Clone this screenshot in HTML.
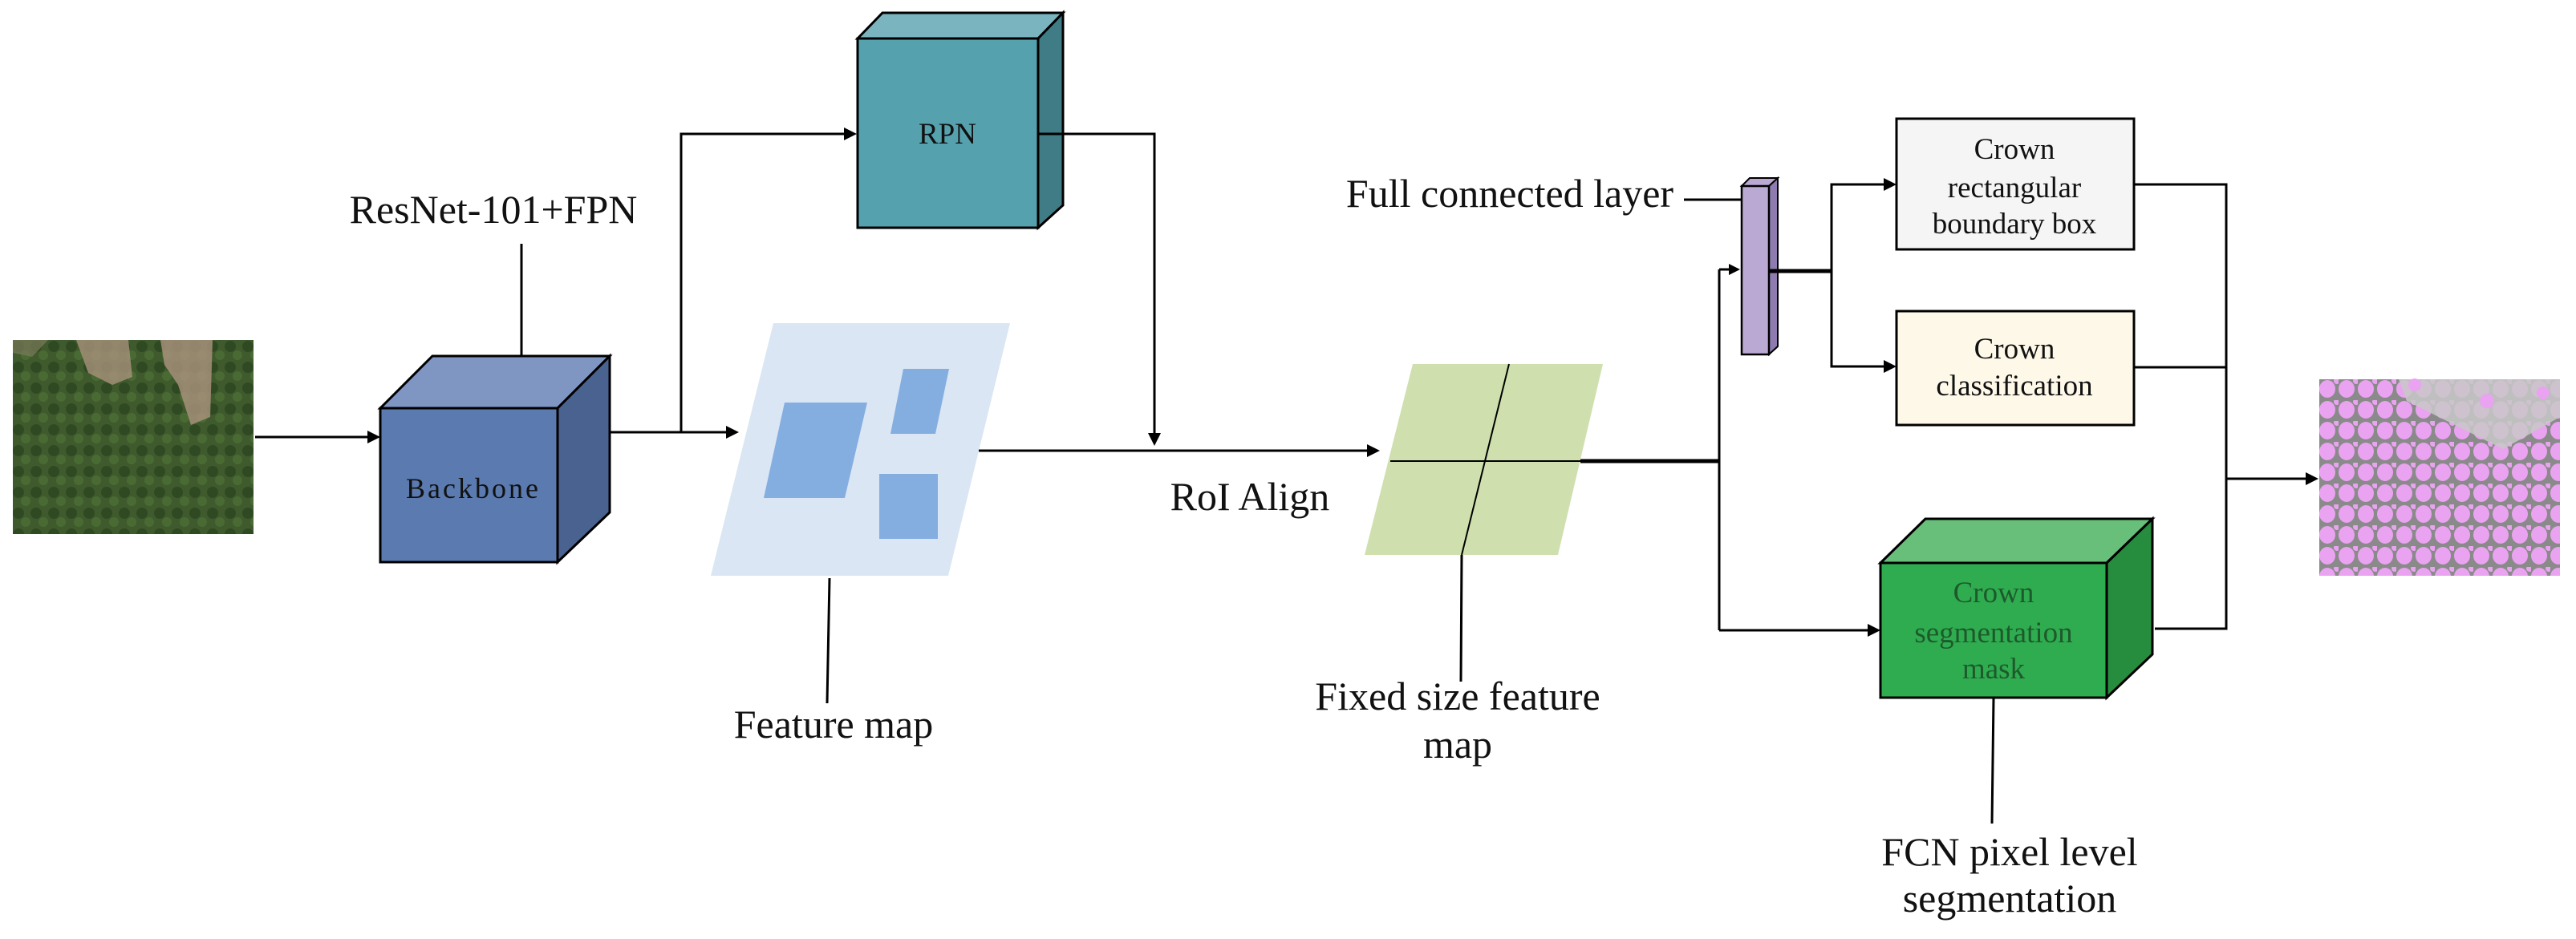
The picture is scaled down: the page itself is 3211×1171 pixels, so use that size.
<!DOCTYPE html>
<html><head><meta charset="utf-8"><style>
html,body{margin:0;padding:0;background:#fff;}
svg{display:block;}
text{font-family:"Liberation Serif",serif;fill:#111;}
</style></head><body>
<svg width="3211" height="1171" viewBox="0 0 3211 1171" xmlns="http://www.w3.org/2000/svg">
<defs>
<pattern id="trees" x="16" y="424" width="22" height="26" patternUnits="userSpaceOnUse">
<rect width="22" height="26" fill="#3f5a2c"/>
<circle cx="7" cy="8" r="7" fill="#2f4a22"/>
<circle cx="16" cy="19" r="6" fill="#4a6a33"/>
</pattern>
<pattern id="dots" x="2891" y="473" width="24" height="26" patternUnits="userSpaceOnUse">
<rect width="24" height="26" fill="#8a8a8a"/>
<ellipse cx="10" cy="12" rx="10" ry="11" fill="#e9a3f0"/>
<circle cx="22" cy="2" r="4" fill="#e9a3f0"/>
</pattern>
</defs>

<!-- Input image -->
<rect x="16" y="424" width="300" height="242" fill="url(#trees)"/>
<path d="M95 424 L160 424 L165 470 L140 480 L110 465 Z" fill="#a8927c" opacity="0.8"/>
<path d="M200 424 L265 424 L262 520 L238 530 L222 480 L205 455 Z" fill="#ab9480" opacity="0.8"/>
<path d="M16 424 L60 424 L40 445 L16 440 Z" fill="#7a7a5a" opacity="0.7"/>

<line x1="318" y1="545" x2="462" y2="545" stroke="#000" stroke-width="3"/>
<polygon points="474,545 458,537 458,553" fill="#000"/>

<!-- Backbone cube -->
<polygon points="474,509 539,444 760,444 695,509" fill="#7f96c3" stroke="#000" stroke-width="3"/>
<polygon points="695,509 760,444 760,639 695,701" fill="#4a6290" stroke="#000" stroke-width="3"/>
<rect x="474" y="509" width="221" height="192" fill="#5a7ab0" stroke="#000" stroke-width="3"/>
<text x="590" y="621" font-size="36" text-anchor="middle" letter-spacing="3">Backbone</text>

<text x="615" y="278" font-size="50" text-anchor="middle">ResNet-101+FPN</text>
<line x1="650" y1="304" x2="650" y2="444" stroke="#000" stroke-width="3"/>

<line x1="760" y1="539" x2="908" y2="539" stroke="#000" stroke-width="3"/>
<polygon points="921,539 905,531 905,547" fill="#000"/>
<polyline points="849,539 849,167 1055,167" fill="none" stroke="#000" stroke-width="3"/>
<polygon points="1068,167 1052,159 1052,175" fill="#000"/>

<!-- RPN cube -->
<polygon points="1069,48 1100,16 1325,16 1294,48" fill="#7ab5bf" stroke="#000" stroke-width="3"/>
<polygon points="1294,48 1325,16 1325,256 1294,284" fill="#3f7c86" stroke="#000" stroke-width="3"/>
<rect x="1069" y="48" width="225" height="236" fill="#55a2ae" stroke="#000" stroke-width="3"/>
<text x="1181" y="179" font-size="37" text-anchor="middle">RPN</text>
<polyline points="1294,167 1439,167 1439,543" fill="none" stroke="#000" stroke-width="3"/>
<polygon points="1439,556 1431,540 1447,540" fill="#000"/>

<!-- Feature map -->
<polygon points="964,403 1259,403 1182,718 886,718" fill="#dae6f4"/>
<polygon points="978,502 1081,502 1053,621 952,621" fill="#84ade0"/>
<polygon points="1126,460 1183,460 1166,541 1110,541" fill="#84ade0"/>
<rect x="1096" y="591" width="73" height="81" fill="#84ade0"/>
<line x1="1034" y1="721" x2="1031" y2="877" stroke="#000" stroke-width="3"/>
<text x="1039" y="920" font-size="50" text-anchor="middle">Feature map</text>

<line x1="1220" y1="562" x2="1707" y2="562" stroke="#000" stroke-width="3"/>
<polygon points="1720,562 1704,554 1704,570" fill="#000"/>
<text x="1558" y="636" font-size="50" text-anchor="middle">RoI Align</text>

<!-- Fixed size feature map -->
<polygon points="1761,454 1998,454 1942,692 1701,692" fill="#cfdfae"/>
<line x1="1733" y1="575" x2="1970" y2="575" stroke="#000" stroke-width="2"/>
<line x1="1881" y1="454" x2="1822" y2="692" stroke="#000" stroke-width="2"/>
<line x1="1822" y1="692" x2="1821" y2="850" stroke="#000" stroke-width="3"/>
<text x="1817" y="885" font-size="50" text-anchor="middle">Fixed size feature</text>
<text x="1817" y="945" font-size="50" text-anchor="middle">map</text>
<line x1="1970" y1="575" x2="2143" y2="575" stroke="#000" stroke-width="5"/>
<line x1="2143" y1="336" x2="2143" y2="786" stroke="#000" stroke-width="3"/>
<line x1="2143" y1="336" x2="2157" y2="336" stroke="#000" stroke-width="3"/>
<polygon points="2169,336 2155,329 2155,343" fill="#000"/>
<line x1="2143" y1="786" x2="2331" y2="786" stroke="#000" stroke-width="3"/>
<polygon points="2344,786 2328,778 2328,794" fill="#000"/>

<!-- Full connected layer -->
<text x="1882" y="258" font-size="50" text-anchor="middle">Full connected layer</text>
<line x1="2099" y1="249" x2="2171" y2="249" stroke="#000" stroke-width="3"/>
<polygon points="2171,232 2181,222 2216,222 2205,232" fill="#b9a9d3" stroke="#000" stroke-width="2"/>
<polygon points="2205,232 2216,222 2216,432 2205,442" fill="#8e7bb0" stroke="#000" stroke-width="2"/>
<rect x="2171" y="232" width="34" height="210" fill="#b9a9d3" stroke="#000" stroke-width="2.5"/>
<line x1="2205" y1="338" x2="2283" y2="338" stroke="#000" stroke-width="5"/>
<polyline points="2351,230 2283,230 2283,457 2351,457" fill="none" stroke="#000" stroke-width="3"/>
<polygon points="2364,230 2348,222 2348,238" fill="#000"/>
<polygon points="2364,457 2348,449 2348,465" fill="#000"/>

<rect x="2364" y="148" width="296" height="163" fill="#f5f5f5" stroke="#000" stroke-width="3"/>
<text x="2511" y="198" font-size="37" text-anchor="middle">Crown</text>
<text x="2511" y="246" font-size="37" text-anchor="middle">rectangular</text>
<text x="2511" y="291" font-size="37" text-anchor="middle">boundary box</text>
<rect x="2364" y="388" width="296" height="142" fill="#fdf8e8" stroke="#000" stroke-width="3"/>
<text x="2511" y="447" font-size="37" text-anchor="middle">Crown</text>
<text x="2511" y="493" font-size="37" text-anchor="middle">classification</text>

<!-- Mask cube -->
<polygon points="2344,702 2400,647 2683,647 2626,702" fill="#68bf7a" stroke="#000" stroke-width="3"/>
<polygon points="2626,702 2683,647 2683,816 2626,870" fill="#268c3e" stroke="#000" stroke-width="3"/>
<rect x="2344" y="702" width="282" height="168" fill="#2fac4f" stroke="#000" stroke-width="3"/>
<text x="2485" y="751" font-size="37" text-anchor="middle" style="fill:#1d5a2b">Crown</text>
<text x="2485" y="801" font-size="37" text-anchor="middle" style="fill:#1d5a2b">segmentation</text>
<text x="2485" y="846" font-size="37" text-anchor="middle" style="fill:#1d5a2b">mask</text>
<line x1="2485" y1="870" x2="2483" y2="1027" stroke="#000" stroke-width="3"/>
<text x="2505" y="1079" font-size="50" text-anchor="middle">FCN pixel level</text>
<text x="2505" y="1137" font-size="50" text-anchor="middle">segmentation</text>

<polyline points="2660,230 2775,230 2775,784 2686,784" fill="none" stroke="#000" stroke-width="3"/>
<line x1="2660" y1="458" x2="2775" y2="458" stroke="#000" stroke-width="3"/>
<line x1="2775" y1="597" x2="2877" y2="597" stroke="#000" stroke-width="3"/>
<polygon points="2890,597 2874,589 2874,605" fill="#000"/>

<!-- Result image -->
<rect x="2891" y="473" width="300" height="245" fill="url(#dots)"/>
<path d="M2990 473 L3191 473 L3191 520 L3120 560 L3080 540 L3040 520 L3000 500 Z" fill="#c8c8c8" opacity="0.85"/>
<circle cx="3010" cy="480" r="8" fill="#e9a3f0"/>
<circle cx="3100" cy="500" r="9" fill="#e9a3f0"/>
<circle cx="3170" cy="490" r="8" fill="#e9a3f0"/>
</svg>
</body></html>
